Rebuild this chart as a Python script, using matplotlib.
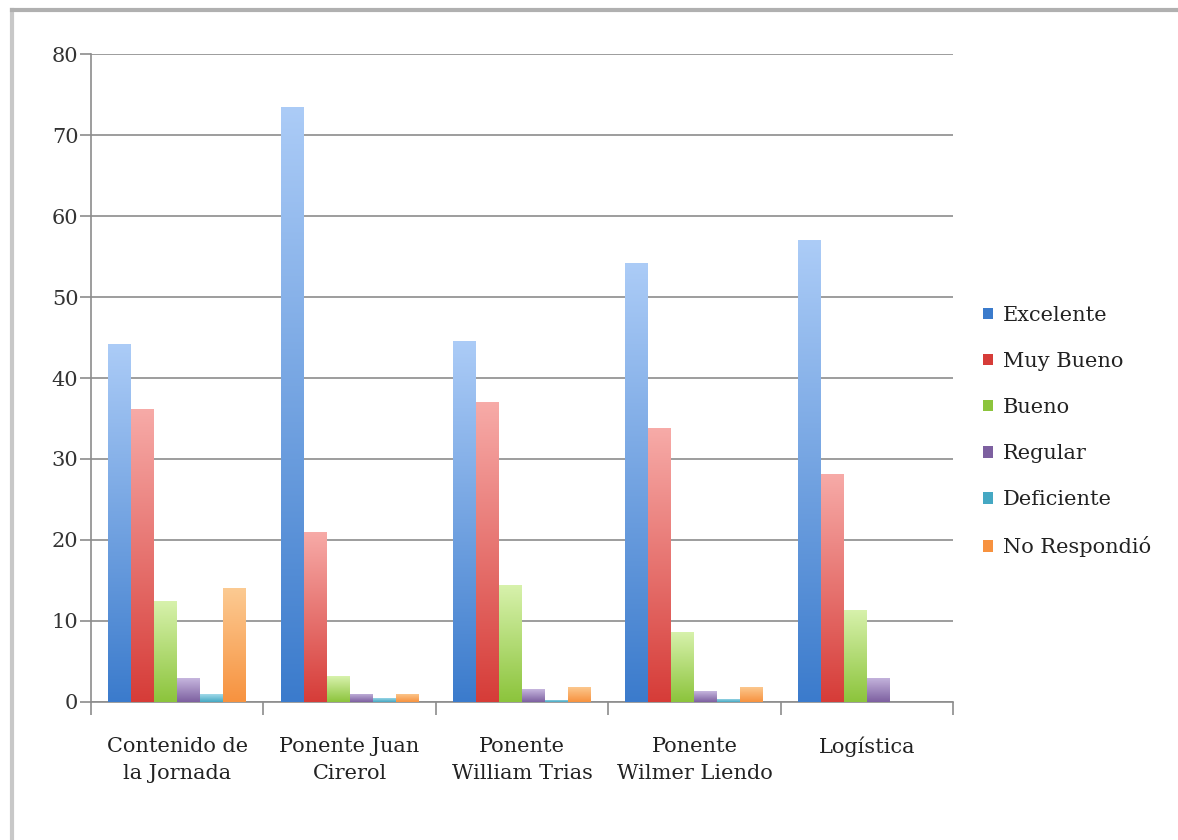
import numpy as np
import matplotlib.pyplot as plt
from matplotlib.colors import LinearSegmentedColormap
from matplotlib.patches import Patch
from matplotlib.lines import Line2D

plt.rcParams['font.family'] = ['DejaVu Serif', 'Liberation Serif']

categorias = ['Contenido de\nla Jornada', 'Ponente Juan\nCirerol', 'Ponente\nWilliam Trias',
              'Ponente\nWilmer Liendo', 'Logística']
series = ['Excelente', 'Muy Bueno', 'Bueno', 'Regular', 'Deficiente', 'No Respondió']

excelente = [44.2, 73.5, 44.6, 54.2, 57.0]
muy_bueno = [36.2, 21.0, 37.0, 33.8, 28.2]
bueno = [12.5, 3.2, 14.5, 8.7, 11.4]
regular = [2.9, 1.0, 1.6, 1.3, 3.0]
deficiente = [1.0, 0.5, 0.3, 0.4, 0.0]
no_respondio = [14.1, 1.0, 1.9, 1.9, 0.0]

valores = [excelente, muy_bueno, bueno, regular, deficiente, no_respondio]

# (oscuro abajo, claro arriba)
colores = [('#3b7bcc', '#acccf7'),
           ('#d63c38', '#f7aba8'),
           ('#8cc43c', '#d8f2ad'),
           ('#7d60a0', '#c6b6de'),
           ('#45a8c3', '#ade0ee'),
           ('#f7923f', '#fccb93')]

fig = plt.figure(figsize=(11.78, 8.4), dpi=100)
ax = fig.add_axes([0.0772, 0.1643, 0.7318, 0.7714])

n = len(series)
ancho = 0.8 / n
x = np.arange(len(categorias))
grad = np.linspace(0, 1, 256).reshape(-1, 1)

for i, (vals, (c1, c2)) in enumerate(zip(valores, colores)):
    cmap = LinearSegmentedColormap.from_list('g%d' % i, [c1, c2])
    pos = x - 0.4 + ancho * (i + 0.5)
    barras = ax.bar(pos, vals, ancho, color=c1, linewidth=0, zorder=2)
    for b in barras:
        h = b.get_height()
        if h <= 0:
            continue
        x0 = b.get_x()
        im = ax.imshow(grad, cmap=cmap, origin='lower', aspect='auto',
                       extent=[x0, x0 + ancho, 0, h], zorder=3)
        im.set_clip_path(b)

ax.set_xlim(-0.5, 4.5)
ax.set_ylim(0, 80)
ax.set_yticks(range(0, 81, 10))
ax.yaxis.grid(True, color='#8c8c8c', linewidth=1.2, zorder=1)
ax.set_axisbelow(True)

ax.set_xticks(x)
ax.set_xticklabels(categorias, fontsize=15, color='#222222', linespacing=1.55)
ax.tick_params(axis='x', length=0, pad=25)
ax.set_xticks(np.arange(-0.5, 5, 1), minor=True)
ax.tick_params(axis='x', which='minor', length=9, color='#8c8c8c', width=1.2)
ax.tick_params(axis='y', length=8, color='#8c8c8c', width=1.2, labelsize=15,
               labelcolor='#333333', pad=1)

for s in ['top', 'right']:
    ax.spines[s].set_visible(False)
for s in ['left', 'bottom']:
    ax.spines[s].set_color('#8c8c8c')
    ax.spines[s].set_linewidth(1.2)

handles = [Patch(facecolor=c1, edgecolor='none') for c1, c2 in colores]
ax.legend(handles, series, loc='center left', bbox_to_anchor=(1.035, 0.417), frameon=False,
          fontsize=15, handlelength=0.45, handleheight=0.45, handletextpad=0.5,
          labelspacing=1.3, labelcolor='#222222', borderaxespad=0, borderpad=0)

# marco exterior
fig.add_artist(Line2D([0.0105, 0.0105], [0, 0.988], color='#c8c8c8', linewidth=3))
fig.add_artist(Line2D([0.0105, 1.0], [0.988, 0.988], color='#b0b0b0', linewidth=3))

fig.savefig('out.png', dpi=100)
